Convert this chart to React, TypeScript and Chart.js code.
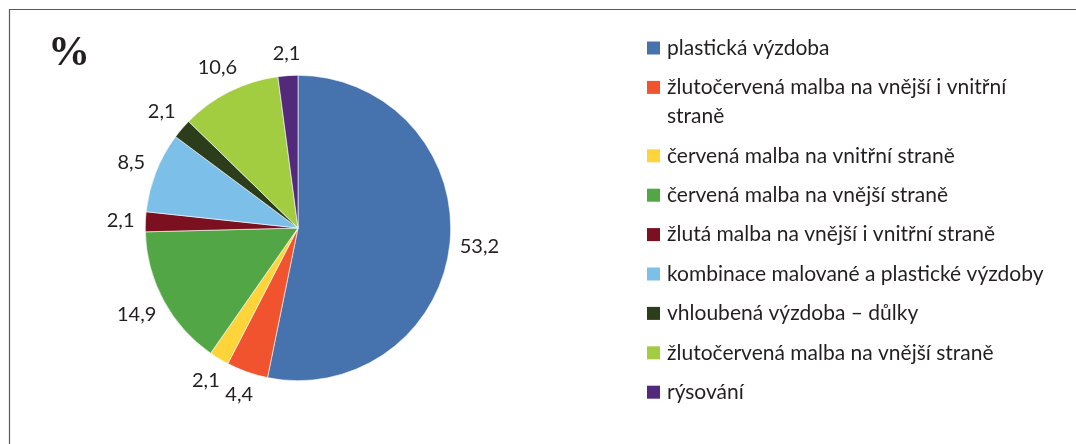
import React, { useEffect, useRef } from "react";
import { Chart, registerables } from "chart.js";

Chart.register(...registerables);

const categories: string[] = [
  "plastická výzdoba",
  "žlutočervená malba na vnější i vnitřní straně",
  "červená malba na vnitřní straně",
  "červená malba na vnější straně",
  "žlutá malba na vnější i vnitřní straně",
  "kombinace malované a plastické výzdoby",
  "vhloubená výzdoba – důlky",
  "žlutočervená malba na vnější straně",
  "rýsování",
];
const values: number[] = [53.2, 4.4, 2.1, 14.9, 2.1, 8.5, 2.1, 10.6, 2.1];
const colors: string[] = [
  "#4673ad",
  "#f0532d",
  "#ffd43b",
  "#52a646",
  "#7a1020",
  "#7cbfe9",
  "#2c3d1b",
  "#a3cd41",
  "#532a7b",
];
const unitLabel = "%";

const TEXT_COLOR = "#231f20";
const LABEL_FONT = "20px Lato";
const LEGEND_FONT = "21px Lato";

const fmt = (v: number) => v.toFixed(1).replace(".", ",");

const framePlugin = {
  id: "frame",
  beforeDraw(chart: any) {
    const { ctx, width, height } = chart;
    ctx.save();
    ctx.fillStyle = "#ffffff";
    ctx.fillRect(0, 0, width, height);
    ctx.strokeStyle = "#5a5a5a";
    ctx.lineWidth = 1.2;
    ctx.beginPath();
    ctx.moveTo(9.5, height);
    ctx.lineTo(9.5, 9.5);
    ctx.lineTo(width, 9.5);
    ctx.stroke();
    ctx.fillStyle = TEXT_COLOR;
    ctx.font = "bold 42px 'Liberation Serif'";
    ctx.textAlign = "center";
    ctx.textBaseline = "middle";
    ctx.fillText(unitLabel, 69, 54);
    ctx.restore();
  },
};

const sliceLabelPlugin = {
  id: "sliceLabels",
  afterDatasetsDraw(chart: any) {
    const { ctx } = chart;
    const meta = chart.getDatasetMeta(0);
    const data = chart.data.datasets[0].data as number[];
    ctx.save();
    ctx.font = LABEL_FONT;
    ctx.fillStyle = TEXT_COLOR;
    ctx.textAlign = "center";
    ctx.textBaseline = "middle";
    meta.data.forEach((arc: any, i: number) => {
      const p = arc.getProps(["x", "y", "startAngle", "endAngle", "outerRadius"], true);
      const a = (p.startAngle + p.endAngle) / 2;
      const text = fmt(data[i]);
      const w = ctx.measureText(text).width;
      const h = 14;
      const ext = Math.abs(Math.cos(a)) * (w / 2) * 0.76 + Math.abs(Math.sin(a)) * (h / 2);
      const d = p.outerRadius + 14 + ext;
      ctx.fillText(text, p.x + d * Math.cos(a), p.y + d * Math.sin(a));
    });
    ctx.restore();
  },
};

const legendPlugin = {
  id: "customLegend",
  afterDraw(chart: any) {
    const { ctx } = chart;
    const labels = chart.data.labels as string[];
    const bg = chart.data.datasets[0].backgroundColor as string[];
    const boxX = 647;
    const boxSize = 13;
    const textX = 667;
    const maxWidth = 386;
    const itemGap = 39.4;
    const lineH = 29;
    let y = 48;
    ctx.save();
    ctx.font = LEGEND_FONT;
    ctx.textAlign = "left";
    ctx.textBaseline = "middle";
    labels.forEach((label, i) => {
      const words = label.split(" ");
      const lines: string[] = [];
      let cur = "";
      words.forEach((wd) => {
        const test = cur ? cur + " " + wd : wd;
        if (ctx.measureText(test).width > maxWidth && cur) {
          lines.push(cur);
          cur = wd;
        } else {
          cur = test;
        }
      });
      if (cur) lines.push(cur);
      ctx.fillStyle = bg[i];
      ctx.fillRect(boxX, y - boxSize / 2, boxSize, boxSize);
      ctx.fillStyle = TEXT_COLOR;
      lines.forEach((ln, j) => {
        ctx.fillText(ln, textX, y + j * lineH);
      });
      y += itemGap + (lines.length - 1) * lineH;
    });
    ctx.restore();
  },
};

export default function App() {
  const ref = useRef<HTMLCanvasElement | null>(null);
  useEffect(() => {
    if (!ref.current) return;
    const chart = new Chart(ref.current, {
      type: "pie",
      data: {
        labels: categories,
        datasets: [
          {
            data: values,
            backgroundColor: colors,
            borderColor: "#ffffff",
            borderWidth: 0.6,
          },
        ],
      },
      options: {
        responsive: false,
        animation: false,
        devicePixelRatio: 1,
        layout: { padding: { left: 145, right: 625, top: 75, bottom: 63 } },
        plugins: {
          legend: { display: false },
          tooltip: { enabled: false },
        },
      },
      plugins: [framePlugin, sliceLabelPlugin, legendPlugin],
    });
    return () => chart.destroy();
  }, []);
  return (
    <div style={{ position: "fixed", left: 0, top: 0, width: 1076, height: 444, background: "#fff" }}>
      <canvas ref={ref} width={1076} height={444} style={{ display: "block" }} />
    </div>
  );
}
